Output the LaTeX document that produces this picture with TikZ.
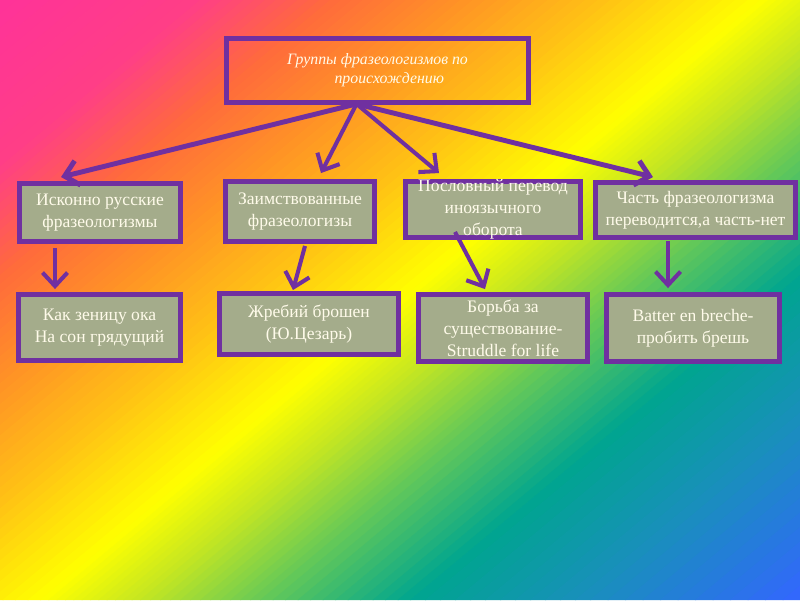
\documentclass[tikz,border=0pt]{standalone}
\usepackage{fontspec}
\setmainfont{Liberation Serif}
\usetikzlibrary{arrows.meta,calc,positioning}
\newlength\pxl
\setlength\pxl{0.02cm}
\definecolor{edge}{HTML}{7030A0}
\definecolor{sage}{HTML}{A4AC8B}
\definecolor{cream}{HTML}{FFFBEA}
\definecolor{bgA}{HTML}{FF3399}
\definecolor{bgB}{HTML}{FF3F86}
\definecolor{bgC}{HTML}{FF6A3C}
\definecolor{bgD}{HTML}{FF9226}
\definecolor{bgE}{HTML}{FFC414}
\definecolor{bgF}{HTML}{FFFF00}
\definecolor{bgG}{HTML}{C4E622}
\definecolor{bgH}{HTML}{66C957}
\definecolor{bgI}{HTML}{00A58F}
\definecolor{bgJ}{HTML}{1A8EBE}
\definecolor{bgK}{HTML}{3366FF}
\tikzset{every picture/.style={
  >={Straight Barb[length=2.7mm,width=5mm]}   % Open V heads.
  }
}

\begin{document}
\begin{tikzpicture}[
      x=0.02cm, y=-0.02cm,
      root/.style={
        draw=edge,
        line width=2.8pt,
        text=cream,
        align=left,
        font=\itshape\fontsize{9}{10.8}\selectfont
      },
      grp/.style 2 args={
        draw=edge,
        line width=2.8pt,
        fill=sage,
        text=cream,
        minimum width=#1*\pxl,
        minimum height=#2*\pxl,
        inner sep=1pt,
        align=center,
        font=\fontsize{10}{12.5}\selectfont
      },
      lnk/.style={->, draw=edge, line width=#1}]

      % Paint the rainbow background in thin diagonal strips.
      \useasboundingbox (0,0) rectangle (800,600);
      \begin{scope}
        \clip (0,0) rectangle (800,600);
        \foreach \ua/\ub/\cola/\colb in {0/200/bgA/bgB, 200/330/bgB/bgC,
            330/460/bgC/bgD, 460/610/bgD/bgE, 610/760/bgE/bgF,
            760/860/bgF/bgG, 860/980/bgG/bgH, 980/1130/bgH/bgI,
            1130/1310/bgI/bgJ, 1310/1520/bgJ/bgK} {
          \foreach \k in {0,...,11} {
            \pgfmathsetmacro\sa{\ua+(\ub-\ua)*\k/12}
            \pgfmathsetmacro\sb{\ua+(\ub-\ua)*(\k+1)/12+1}
            \pgfmathtruncatemacro\mix{100*(\k+0.5)/12}
            \fill[fill=\colb!\mix!\cola] (\sa,0) -- (\sb,0)
              -- (\sb-720,600) -- (\sa-720,600) -- cycle;
          }
        }
      \end{scope}

      % Draw the boxes.
      \node[root, minimum width=302*\pxl, minimum height=64*\pxl] (root)
        at (377.5,70.5) {Группы фразеологизмов по\\\hspace*{27pt}происхождению};

      \node[grp={161}{58}] (cA) at (100,212.5) {Исконно русские\\фразеологизмы};
      \node[grp={149}{60}] (cB) at (300,211.5) {Заимствованные\\фразеологизы};
      \node[grp={175}{56}, inner ysep=-3pt] (cC) at (493,209.5)
        {Пословный перевод\\иноязычного\\оборота};
      \node[grp={200}{55}] (cD) at (695.5,210)
        {Часть фразеологизма\\переводится,а часть-нет};

      \node[grp={162}{66}] (cE) at (99.5,327.5) {Как зеницу ока\\На сон грядущий};
      \node[grp={179}{61}] (cF) at (309,324) {Жребий брошен\\(Ю.Цезарь)};
      \node[grp={169}{67}] (cG) at (503,328)
        {Борьба за\\существование-\\Struddle for life};
      \node[grp={173}{67}] (cH) at (693,328) {Batter en breche-\\пробить брешь};

      % Draw the arrows.
      \coordinate (hub) at ($(root.south)+(-21,-1)$);

      \draw[lnk=2.8pt] (hub) -- ($(cA.north)+(-39,-4)$);
      \draw[lnk=2.3pt] (hub) -- ($(cB.north)+(21,-6)$);
      \draw[lnk=2.3pt] (hub) -- ($(cC.north)+(-54,-6)$);
      \draw[lnk=2.8pt] (hub) -- ($(cD.north)+(-42.5,-3)$);

      \draw[lnk=2.3pt] ($(cA.south)+(-45,4)$) -- ($(cE.north)+(-44.5,-3)$);
      \draw[lnk=2.3pt] ($(cB.south)+(5,2)$) -- ($(cF.north)+(-16,-1)$);
      \draw[lnk=2.3pt] ($(cC.south)+(-38,-8)$) -- ($(cG.north)+(-18,-3)$);
      \draw[lnk=2.3pt] ($(cD.south)+(-27.5,1)$) -- ($(cH.north)+(-25,-4)$);

    \end{tikzpicture}
\end{document}
